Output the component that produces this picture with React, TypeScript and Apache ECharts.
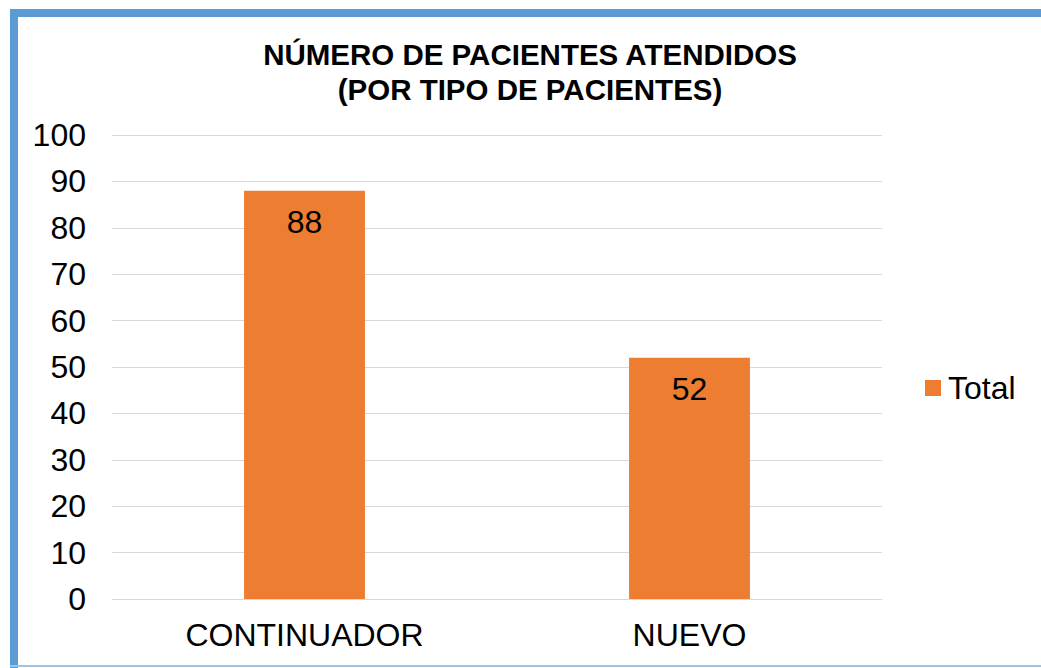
import React, { useEffect, useRef } from "react";
import * as echarts from "echarts";

const categories = ["CONTINUADOR", "NUEVO"];
const totals = [88, 52];
const seriesName = "Total";
const titleLines = ["NÚMERO DE PACIENTES ATENDIDOS", "(POR TIPO DE PACIENTES)"];

const FONT = "'Liberation Sans', Arial, sans-serif";

export default function App() {
  const ref = useRef<HTMLDivElement>(null);
  useEffect(() => {
    const chart = echarts.init(ref.current!, null, { renderer: "svg" });
    chart.setOption({
      animation: false,
      backgroundColor: "#ffffff",
      title: {
        text: titleLines.join("\n"),
        left: 525,
        textAlign: "center",
        top: 32,
        textStyle: {
          fontFamily: FONT,
          fontWeight: "bold",
          fontSize: 29.5,
          lineHeight: 35,
          color: "#000",
        },
      },
      legend: {
        data: [seriesName],
        left: 920,
        top: 367,
        itemWidth: 16,
        itemHeight: 16,
        itemGap: 8,
        icon: "rect",
        textStyle: { fontFamily: FONT, fontSize: 32, color: "#000", padding: [0, 0, 0, 2] },
      },
      grid: { left: 112, right: 159, top: 135, bottom: 69, containLabel: false },
      xAxis: {
        type: "category",
        data: categories,
        axisLine: { show: true, lineStyle: { color: "#d9d9d9", width: 1 } },
        axisTick: { show: false },
        axisLabel: { fontFamily: FONT, fontSize: 32, color: "#000", margin: 20 },
      },
      yAxis: {
        type: "value",
        min: 0,
        max: 100,
        interval: 10,
        axisLine: { show: false },
        axisTick: { show: false },
        axisLabel: { fontFamily: FONT, fontSize: 32, color: "#000", margin: 26 },
        splitLine: { lineStyle: { color: "#d9d9d9", width: 1 } },
      },
      series: [
        {
          name: seriesName,
          type: "bar",
          data: totals,
          barWidth: "31.4%",
          itemStyle: { color: "#ED7D31" },
          label: {
            show: true,
            position: "insideTop",
            distance: 15,
            fontFamily: FONT,
            fontSize: 32,
            color: "#000",
          },
        },
      ],
    });
    return () => chart.dispose();
  }, []);
  return (
    <div style={{ position: "absolute", left: 0, top: 0, width: 1041, height: 668, background: "#fff" }}>
      <div ref={ref} style={{ position: "absolute", left: 0, top: 0, width: 1041, height: 668 }} />
      <div style={{ position: "absolute", left: 10, top: 9, width: 1031, height: 8, background: "#5B9BD5" }} />
      <div style={{ position: "absolute", left: 10, top: 9, width: 8, height: 659, background: "#5B9BD5" }} />
      <div style={{ position: "absolute", left: 10, top: 665, width: 1031, height: 2, background: "#9DC3E6" }} />
    </div>
  );
}
